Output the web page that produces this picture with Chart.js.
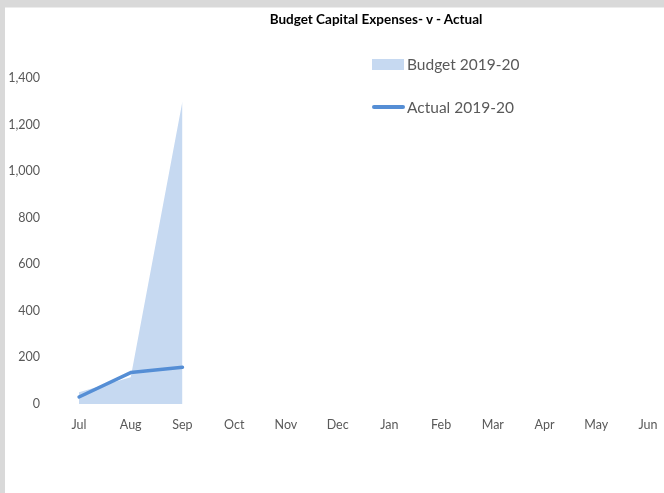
<!DOCTYPE html>
<html>
<head>
<meta charset="utf-8">
<script src="https://cdn.jsdelivr.net/npm/chart.js@4"></script>
<style>
  html, body { margin: 0; padding: 0; width: 664px; height: 493px; overflow: hidden; background: #d9d9d9; }
  #panel { position: absolute; left: 5px; top: 7px; width: 700px; height: 500px; background: #ffffff; border-top: 1px solid #ececec; }
  #wrap { position: absolute; left: 0; top: 0; width: 664px; height: 493px; }
  #title { position: absolute; top: 11px; left: 376px; transform: translateX(-50%); white-space: nowrap;
           font-family: Lato, "Open Sans", sans-serif; font-weight: bold; font-size: 13.5px; color: #000; }
  .leg { position: absolute; left: 372px; font-family: Lato, "Open Sans", sans-serif; font-size: 15.5px; color: #595959; white-space: nowrap; }
  .sw { display: inline-block; vertical-align: middle; }
</style>
</head>
<body>
<div id="panel"></div>
<div id="wrap"><canvas id="c" width="664" height="493"></canvas></div>
<div id="title">Budget Capital Expenses- v - Actual</div>
<div class="leg" style="top:53px;"><span class="sw" style="width:32px;height:11px;background:#c6d9f1;margin-right:3px;"></span><span style="vertical-align:middle;">Budget 2019-20</span></div>
<div class="leg" style="top:96px;"><span class="sw" style="width:33px;height:3.5px;background:#558ed5;border-radius:2px;margin-right:2px;"></span><span style="vertical-align:middle;">Actual 2019-20</span></div>
<script>
const months = ["Jul","Aug","Sep","Oct","Nov","Dec","Jan","Feb","Mar","Apr","May","Jun"];
const budget2019 = [50, 115, 1300, null, null, null, null, null, null, null, null, null];
const actual2019 = [30, 135, 158, null, null, null, null, null, null, null, null, null];
const yTicks = [0, 200, 400, 600, 800, 1000, 1200, 1400];

const tickFont = { family: "Lato, 'Open Sans', sans-serif", size: 12.5 };
new Chart(document.getElementById('c'), {
  type: 'line',
  data: {
    labels: months,
    datasets: [
      { label: 'Actual 2019-20', data: actual2019, borderColor: '#558ed5', borderWidth: 3.5,
        pointRadius: 0, fill: false, tension: 0, borderCapStyle: 'round', borderJoinStyle: 'round', order: 0 },
      { label: 'Budget 2019-20', data: budget2019, borderWidth: 0, borderColor: 'rgba(0,0,0,0)',
        backgroundColor: '#c6d9f1', pointRadius: 0, fill: 'origin', tension: 0, order: 1 }
    ]
  },
  options: {
    responsive: false,
    animation: false,
    events: [],
    layout: { padding: { left: 0, right: 16, top: 78, bottom: 0 } },
    plugins: { legend: { display: false }, title: { display: false }, tooltip: { enabled: false } },
    scales: {
      x: {
        offset: false,
        grid: { display: false, drawTicks: false },
        border: { display: false },
        ticks: { color: '#595959', font: tickFont, padding: 13, maxRotation: 0, autoSkip: false },
        afterFit: s => { s.height = 89; s.paddingRight = 0; s.paddingLeft = 0; }
      },
      y: {
        min: 0, max: 1400,
        afterBuildTicks: s => { s.ticks = yTicks.map(v => ({ value: v })); },
        grid: { display: false, drawTicks: false },
        border: { display: false },
        ticks: { color: '#595959', font: tickFont, padding: 39,
                 callback: v => Number(v).toLocaleString('en-US') },
        afterFit: s => { s.width = 79; s.paddingTop = 0; s.paddingBottom = 0; }
      }
    }
  }
});
</script>
</body>
</html>
